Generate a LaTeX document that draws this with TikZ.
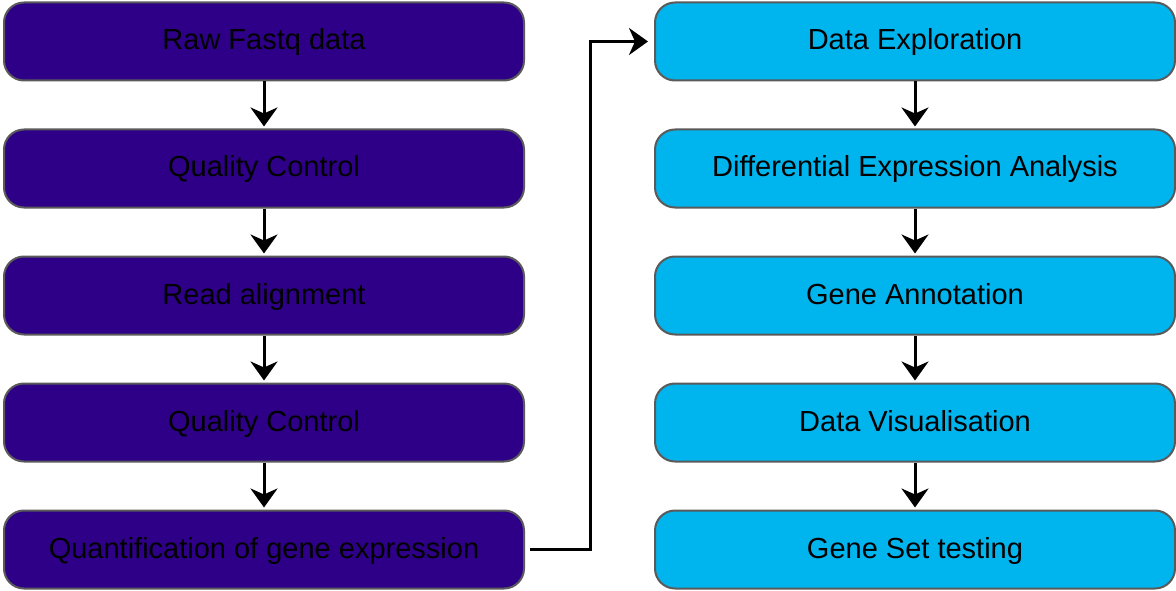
\documentclass[tikz,border=0pt]{standalone}
\usepackage{fontspec}
\setmainfont{Liberation Sans}
\usetikzlibrary{positioning, arrows.meta}

\definecolor{rawpurple}{HTML}{2E0087}
\definecolor{skyblue}{HTML}{00B4EE}
\definecolor{edgegray}{HTML}{5A5A5A}

\tikzset{
  stepbox/.style={draw=edgegray, line width=2pt, rounded corners=20pt,
    minimum width=520pt, minimum height=78pt, inner sep=0pt,
    text height=21pt, text depth=4pt,
    font=\fontsize{29}{33}\selectfont, text=black},
  leftbox/.style={stepbox, fill=rawpurple},
  rightbox/.style={stepbox, fill=skyblue},
  flow/.style={line width=3pt, -{Stealth[length=19pt, width=27pt, inset=6pt]}}
}

\begin{document}
\begin{tikzpicture}[x=1pt, y=1pt, node distance=47pt]

  \useasboundingbox (0,0) rectangle (1176,-591);

  % left column
  \node[leftbox] (raw) at (264,-41.5) {Raw Fastq data};
  \node[leftbox, below=of raw] (qc1) {Quality Control};
  \node[leftbox, below=of qc1] (align) {Read alignment};
  \node[leftbox, below=of align] (qc2) {Quality Control};
  \node[leftbox, below=of qc2] (quant) {Quantification of gene expression};

  % right column
  \node[rightbox] (explore) at (915,-41.5) {Data Exploration};
  \node[rightbox, below=of explore] (dea) {Differential Expression Analysis};
  \node[rightbox, below=of dea] (annot) {Gene Annotation};
  \node[rightbox, below=of annot] (visual) {Data Visualisation};
  \node[rightbox, below=of visual] (gset) {Gene Set testing};

  % arrows
  \draw[flow, shorten >=2pt] (raw) -- (qc1);
  \draw[flow, shorten >=2pt] (qc1) -- (align);
  \draw[flow, shorten >=2pt] (align) -- (qc2);
  \draw[flow, shorten >=2pt] (qc2) -- (quant);

  \draw[flow, shorten >=2pt] (explore) -- (dea);
  \draw[flow, shorten >=2pt] (dea) -- (annot);
  \draw[flow, shorten >=2pt] (annot) -- (visual);
  \draw[flow, shorten >=2pt] (visual) -- (gset);

  % link between the two columns
  \draw[flow, shorten <=5pt, shorten >=6pt, rounded corners=0pt]
    (quant.east) -- ++(65,0) |- (explore.west);

\end{tikzpicture}
\end{document}
